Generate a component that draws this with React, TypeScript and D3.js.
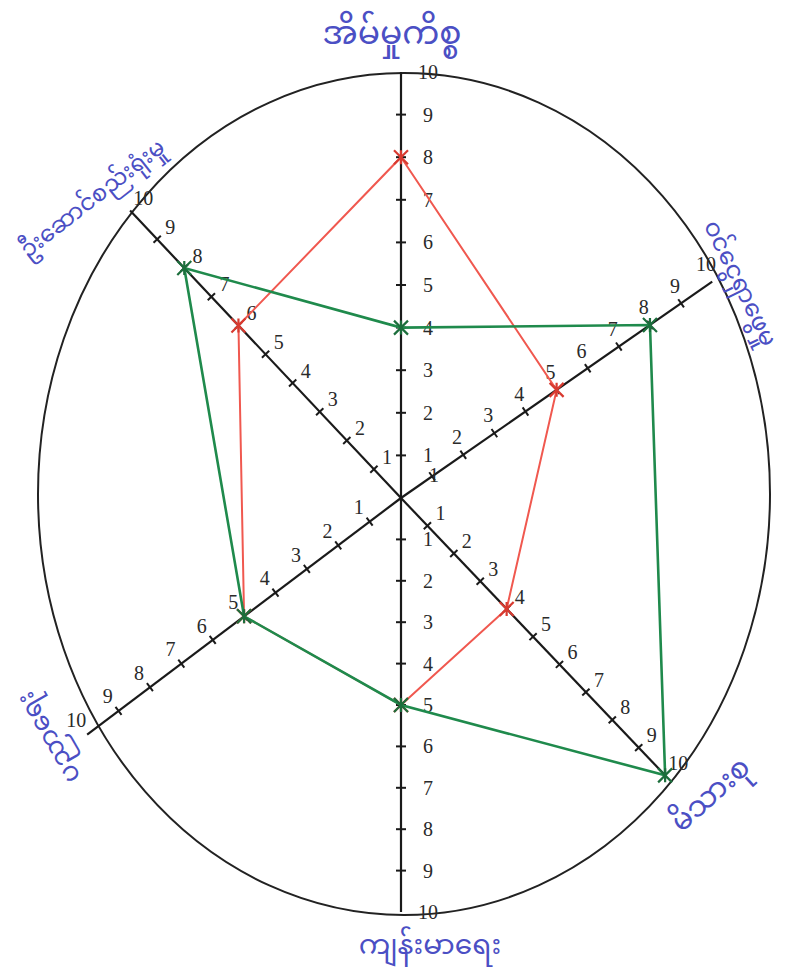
import * as d3 from 'd3';
import React, { useEffect, useRef } from 'react';

// spokes, clockwise from the top
const categories = ['အိမ်မှုကိစ္စ', 'ဝင်ငွေရှာဖွေမှု', 'မိသားစု', 'ကျန်းမာရေး', 'ပညာရေး', 'ဦးဆောင်စည်းရုံးမှု'];
const redValues = [8, 5, 4, 5, 5, 6];
const greenValues = [4, 8, 10, 5, 5, 8];
const tickValues = [1, 2, 3, 4, 5, 6, 7, 8, 9, 10];

// hand drawn spokes: screen angle (deg), length (px), side for tick numbers
const spokeAngles = [-90, -34.8, 46.4, 90, 143, -133.3];
const spokeLengths = [426, 379, 383, 414, 393, 395];
const tickSide = [1, -1, -1, -1, 1, 1];

// category label placement: x, y, rotation, font size
const labelPos: [number, number, number, number][] = [
    [392, 32, 0, 33],
    [741, 283, 64, 24],
    [710, 794, -42, 29],
    [430, 944, 0, 28],
    [48, 738, -120, 26],
    [92, 198, -38, 23],
];

const App = () => {
    const svgRef = useRef<SVGSVGElement>(null);

    useEffect(() => {
        const svg = d3.select(svgRef.current);
        svg.selectAll('*').remove();

        const width = 795;
        const height = 977;
        const cx = 401;
        const cy = 498;

        svg.attr('width', width).attr('height', height);
        svg.append('rect').attr('width', width).attr('height', height).attr('fill', 'white');

        // the big oval
        svg.append('ellipse')
            .attr('cx', 404).attr('cy', 494)
            .attr('rx', 366).attr('ry', 421)
            .attr('fill', 'none')
            .attr('stroke', '#222')
            .attr('stroke-width', 2);

        const g = svg.append('g').attr('transform', `translate(${cx},${cy})`);

        const spokes = categories.map((c, i) => {
            const a = (spokeAngles[i] * Math.PI) / 180;
            const r = d3.scaleLinear().domain([0, 10]).range([0, spokeLengths[i]]);
            return { name: c, ux: Math.cos(a), uy: Math.sin(a), r, side: tickSide[i] };
        });

        const pt = (i: number, v: number): [number, number] => {
            const s = spokes[i];
            return [s.ux * s.r(v), s.uy * s.r(v)];
        };

        // spokes with ticks and numbers
        spokes.forEach((s, i) => {
            g.append('line')
                .attr('x1', 0).attr('y1', 0)
                .attr('x2', s.ux * s.r(10)).attr('y2', s.uy * s.r(10))
                .attr('stroke', '#1a1a1a')
                .attr('stroke-width', 2.2);

            const px = -s.uy;
            const py = s.ux;

            g.selectAll(`.tick${i}`)
                .data(tickValues.filter(d => d < 10))
                .join('line')
                .attr('x1', d => pt(i, d)[0] - px * 5)
                .attr('y1', d => pt(i, d)[1] - py * 5)
                .attr('x2', d => pt(i, d)[0] + px * 5)
                .attr('y2', d => pt(i, d)[1] + py * 5)
                .attr('stroke', '#1a1a1a')
                .attr('stroke-width', 2);

            const off = i === 0 || i === 3 ? 27 : 18;
            let sx = px * s.side;
            let sy = py * s.side;
            if (i === 0 || i === 3) { sx = 1; sy = 0; }
            const along = i === 1 ? 5 : 0;
            // nudge the crowded "1" near the centre
            const nudge = (d: number) => (i === 1 && d === 1 ? [8, 16] : [0, 0]);

            g.selectAll(`.num${i}`)
                .data(tickValues)
                .join('text')
                .attr('x', d => pt(i, d)[0] + sx * off + s.ux * along + nudge(d)[0])
                .attr('y', d => pt(i, d)[1] + sy * off + s.uy * along + nudge(d)[1])
                .attr('dy', '0.35em')
                .attr('text-anchor', 'middle')
                .style('font-family', '"Liberation Serif", serif')
                .style('font-size', '20px')
                .attr('fill', '#2a2a2a')
                .text(d => d);
        });

        const line = d3.line<number>()
            .x((d, i) => pt(i, d)[0])
            .y((d, i) => pt(i, d)[1])
            .curve(d3.curveLinearClosed);

        const drawSeries = (values: number[], color: string, mark: string, w: number) => {
            g.append('path')
                .datum(values)
                .attr('d', line)
                .attr('fill', 'none')
                .attr('stroke', color)
                .attr('stroke-width', w);

            values.forEach((v, i) => {
                const [x, y] = pt(i, v);
                const m = 7;
                g.append('path')
                    .attr('d', `M${x - m},${y - m}L${x + m},${y + m}M${x - m},${y + m}L${x + m},${y - m}M${x},${y - m}L${x},${y + m}`)
                    .attr('stroke', mark)
                    .attr('stroke-width', 2.2);
            });
        };

        drawSeries(redValues, '#f0584f', '#d83a30', 2);
        drawSeries(greenValues, '#1f8a4c', '#1c6e3c', 2.6);

        // category labels
        svg.selectAll('.cat')
            .data(categories)
            .join('text')
            .attr('transform', (d, i) => `translate(${labelPos[i][0]},${labelPos[i][1]}) rotate(${labelPos[i][2]})`)
            .attr('text-anchor', 'middle')
            .attr('dy', '0.35em')
            .style('font-family', '"Noto Sans Myanmar", "Noto Sans", sans-serif')
            .style('font-size', (d, i) => `${labelPos[i][3]}px`)
            .attr('fill', '#4b4fc4')
            .text(d => d);
    }, []);

    return (
        <div style={{ position: 'absolute', left: 0, top: 0 }}>
            <svg ref={svgRef}></svg>
        </div>
    );
};

export default App;
